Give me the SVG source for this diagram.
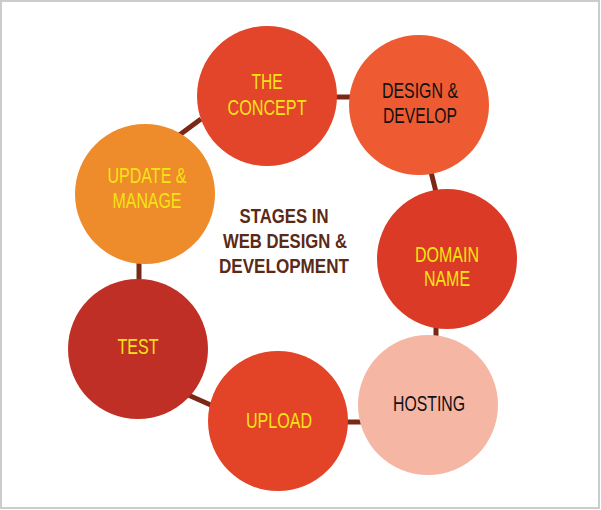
<svg xmlns="http://www.w3.org/2000/svg" width="601" height="510" viewBox="0 0 601 510">
<style>
.lbl{font-family:"Liberation Sans",Arial,sans-serif;font-size:22px;text-anchor:middle}
.y{fill:#f5e414}
.k{fill:#111111}
.title{font-family:"Liberation Sans",Arial,sans-serif;font-size:20px;font-weight:bold;fill:#5a2a16;text-anchor:middle}
.conn line{stroke:#7b2917;stroke-width:5;stroke-linecap:butt}
</style>
<rect x="0" y="0" width="601" height="510" fill="#ffffff"/>
<rect x="1" y="1" width="598" height="507" fill="none" stroke="#cccccc" stroke-width="2"/>
<g id="connectors" class="conn">
<line x1="334" y1="97" x2="352" y2="97"/>
<line x1="178" y1="136" x2="201" y2="119"/>
<line x1="431" y1="172" x2="436" y2="192"/>
<line x1="139" y1="261" x2="139" y2="283"/>
<line x1="186" y1="394" x2="213" y2="406"/>
<line x1="345" y1="422" x2="361" y2="422"/>
<line x1="436" y1="326" x2="436" y2="338"/>
</g>
<g id="concept"><circle cx="267" cy="96" r="70" fill="#e2452a"/>
<text class="lbl y" x="267" y="89" textLength="31" lengthAdjust="spacingAndGlyphs">THE</text>
<text class="lbl y" x="267" y="115" textLength="79" lengthAdjust="spacingAndGlyphs">CONCEPT</text></g>
<g id="design"><circle cx="419" cy="105" r="70" fill="#ee5b32"/>
<text class="lbl k" x="420" y="98" textLength="76" lengthAdjust="spacingAndGlyphs">DESIGN &amp;</text>
<text class="lbl k" x="420" y="123" textLength="74" lengthAdjust="spacingAndGlyphs">DEVELOP</text></g>
<g id="domain"><circle cx="447" cy="259" r="70" fill="#db3a26"/>
<text class="lbl y" x="447" y="262" textLength="64" lengthAdjust="spacingAndGlyphs">DOMAIN</text>
<text class="lbl y" x="447" y="286" textLength="46" lengthAdjust="spacingAndGlyphs">NAME</text></g>
<g id="hosting"><circle cx="428" cy="405" r="70" fill="#f5b6a4"/>
<text class="lbl k" x="429" y="411" textLength="72" lengthAdjust="spacingAndGlyphs">HOSTING</text></g>
<g id="upload"><circle cx="278" cy="421" r="70" fill="#e34427"/>
<text class="lbl y" x="279" y="428" textLength="66" lengthAdjust="spacingAndGlyphs">UPLOAD</text></g>
<g id="test"><circle cx="138" cy="349" r="70" fill="#c02f25"/>
<text class="lbl y" x="138" y="354" textLength="41" lengthAdjust="spacingAndGlyphs">TEST</text></g>
<g id="update"><circle cx="145" cy="194" r="70" fill="#ee8b2a"/>
<text class="lbl y" x="147" y="183" textLength="79" lengthAdjust="spacingAndGlyphs">UPDATE &amp;</text>
<text class="lbl y" x="147" y="208" textLength="69" lengthAdjust="spacingAndGlyphs">MANAGE</text></g>
<g id="title">
<text class="title" x="284" y="223" textLength="89" lengthAdjust="spacingAndGlyphs">STAGES IN</text>
<text class="title" x="285" y="248" textLength="124" lengthAdjust="spacingAndGlyphs">WEB DESIGN &amp;</text>
<text class="title" x="284" y="273" textLength="130" lengthAdjust="spacingAndGlyphs">DEVELOPMENT</text>
</g>
</svg>
